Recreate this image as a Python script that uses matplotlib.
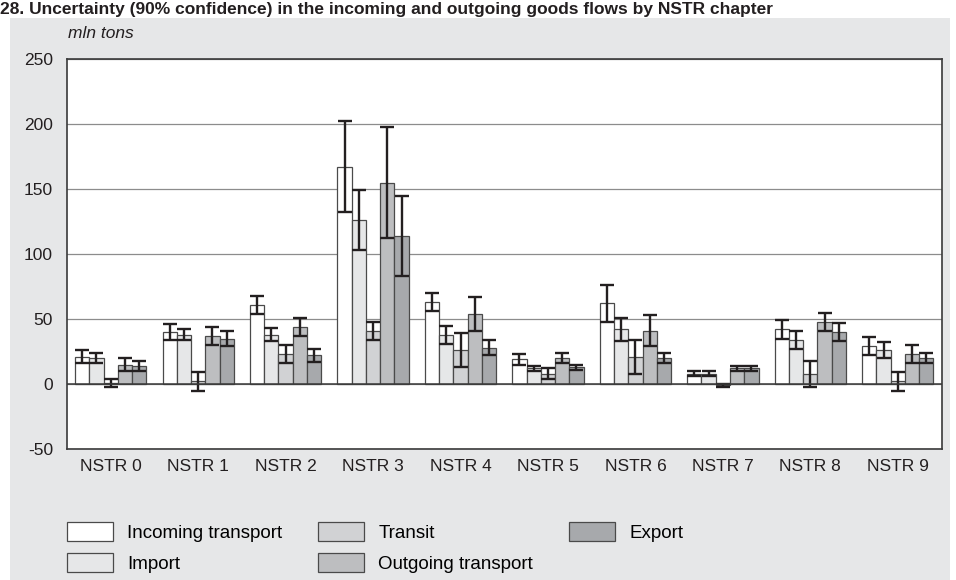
import matplotlib
matplotlib.use("Agg")
import matplotlib.pyplot as plt
import numpy as np
from matplotlib.patches import Rectangle, Patch

plt.rcParams['font.family'] = ['Liberation Sans', 'DejaVu Sans']
plt.rcParams['axes.unicode_minus'] = False

categories = ["NSTR 0", "NSTR 1", "NSTR 2", "NSTR 3", "NSTR 4",
              "NSTR 5", "NSTR 6", "NSTR 7", "NSTR 8", "NSTR 9"]

incoming = [21, 40, 61, 167, 63, 19, 62, 8, 42, 29]
incoming_err = [5, 6, 7, 35, 7, 4, 14, 2, 7, 7]
imports = [20, 38, 38, 126, 38, 12, 42, 8, 34, 26]
imports_err = [4, 4, 5, 23, 7, 2, 9, 2, 7, 6]
transit = [1, 2, 23, 41, 26, 8, 21, -1, 8, 2]
transit_err = [3, 7, 7, 7, 13, 4, 13, 1, 10, 7]
outgoing = [15, 37, 44, 155, 54, 20, 41, 12, 48, 23]
outgoing_err = [5, 7, 7, 43, 13, 4, 12, 2, 7, 7]
export = [14, 35, 22, 114, 28, 13, 20, 12, 40, 20]
export_err = [4, 6, 5, 31, 6, 2, 4, 2, 7, 4]

series = [
    ("Incoming transport", incoming, incoming_err, "#ffffff"),
    ("Import", imports, imports_err, "#e6e7e8"),
    ("Transit", transit, transit_err, "#d1d2d4"),
    ("Outgoing transport", outgoing, outgoing_err, "#bdbec0"),
    ("Export", export, export_err, "#a7a9ac"),
]

W, H = 956, 580
fig = plt.figure(figsize=(W / 100, H / 100), dpi=100)
fig.patch.set_facecolor("white")

# grey panel behind the chart
fig.patches.append(Rectangle((10 / W, 0), 940 / W, 1 - 18 / H,
                             transform=fig.transFigure, facecolor="#e6e7e8",
                             edgecolor="none", zorder=-10))

fig.text(0.0, 1 - 14 / H,
         "28. Uncertainty (90% confidence) in the incoming and outgoing goods flows by NSTR chapter",
         fontsize=12.5, fontweight="bold", ha="left", va="baseline", color="#231f20")

ax = fig.add_axes([67 / W, 1 - 449 / H, (941.5 - 67) / W, (449 - 59) / H])
ax.set_facecolor("white")

x = np.arange(len(categories))
bw = 0.163
edge = "#4a4a4a"
for i, (name, vals, errs, col) in enumerate(series):
    ax.bar(x + (i - 2) * bw, vals, bw, yerr=errs, color=col, edgecolor=edge,
           linewidth=0.9, zorder=3, label=name,
           error_kw=dict(ecolor="#231f20", elinewidth=1.7, capsize=5,
                         capthick=1.7, zorder=4))

ax.set_xlim(-0.5, len(categories) - 0.5)
ax.set_ylim(-50, 250)
ax.set_yticks(np.arange(-50, 251, 50))
ax.set_xticks(x)
ax.set_xticklabels(categories)
ax.tick_params(axis="both", length=0, labelsize=12.5, colors="#231f20")
ax.tick_params(axis="y", pad=10)
ax.tick_params(axis="x", pad=7)
ax.yaxis.grid(True, color="#8c8c8c", linewidth=0.9, zorder=0)
ax.set_axisbelow(True)
ax.axhline(0, color="#3a3a3a", linewidth=1.1, zorder=5)
for s in ax.spines.values():
    s.set_color("#3a3a3a")
    s.set_linewidth(1.2)

fig.text(68 / W, 1 - 34 / H, "mln tons", fontsize=12.5, style="italic",
         ha="left", va="center", color="#231f20")

handles = [Patch(facecolor=c, edgecolor=edge, linewidth=0.9, label=n)
           for n, _, _, c in series]
fig.legend(handles=handles, loc="upper left",
           bbox_to_anchor=(67 / W, 1 - 522 / H), ncol=3, frameon=False,
           fontsize=13.5, handlelength=2.45, handleheight=1.2,
           handletextpad=0.75, columnspacing=1.93, labelspacing=0.6,
           borderpad=0, borderaxespad=0)

fig.savefig("out.png", dpi=100, facecolor=fig.get_facecolor())
